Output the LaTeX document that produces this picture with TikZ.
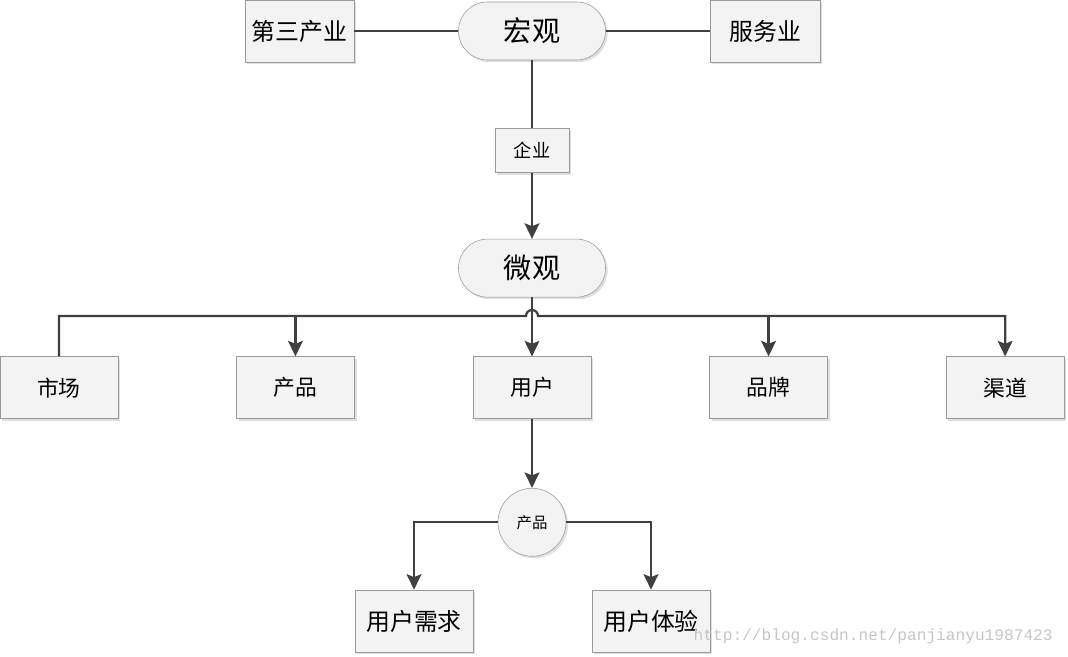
\documentclass[tikz,border=0pt]{standalone}
\usepackage{fontspec}
\newfontfamily\cjk{Noto Sans CJK SC}
\newfontfamily\markfont{Liberation Mono}
\usepackage{tikz}
\usetikzlibrary{arrows.meta, positioning, calc, shadows}
\definecolor{LineGray}{HTML}{404040}
\definecolor{BoxEdge}{HTML}{9A9A9A}
\definecolor{BoxFill}{HTML}{F3F3F3}
\tikzset{
  % Box styles
  pillbox/.style={rectangle, rounded corners=0.72cm, draw=BoxEdge, fill=BoxFill, minimum width=3.675cm, minimum height=1.45cm, font=\cjk\fontsize{20}{22}\selectfont, align=center, drop shadow={shadow xshift=1.5pt, shadow yshift=-1.5pt, opacity=0.25}},
  topicbox/.style={rectangle, draw=BoxEdge, fill=BoxFill, minimum width=2.95cm, minimum height=1.55cm, font=\cjk\fontsize{15.5}{17}\selectfont, align=center, drop shadow={shadow xshift=1.5pt, shadow yshift=-1.5pt, opacity=0.25}},
  smallbox/.style={rectangle, draw=BoxEdge, fill=BoxFill, minimum width=1.85cm, minimum height=1.1cm, font=\cjk\fontsize{13}{15}\selectfont, align=center, drop shadow={shadow xshift=1.5pt, shadow yshift=-1.5pt, opacity=0.25}},
  circnode/.style={circle, draw=BoxEdge, fill=BoxFill, minimum size=1.7cm, font=\cjk\fontsize{11}{13}\selectfont, drop shadow={shadow xshift=1.5pt, shadow yshift=-1.5pt, opacity=0.25}},
  % Arrow styles
  arrow/.style={->, >={Stealth[length=11pt, width=10.5pt, inset=2pt]}, line width=1.6pt, LineGray},
  line/.style={line width=1.6pt, LineGray}
}

\begin{document}
\begin{tikzpicture}
  \useasboundingbox (0,0) rectangle (26.7,-16.425);

  % Top level
  \node[pillbox] (macro) at (13.3,-0.775) {宏观};
  \node[topicbox, minimum width=2.725cm, font=\cjk\fontsize{17}{19}\selectfont, left=2.6cm of macro] (tert) {第三产业};
  \node[topicbox, minimum width=2.75cm, font=\cjk\fontsize{17}{19}\selectfont, right=2.6cm of macro] (serv) {服务业};
  \node[smallbox, below=1.7cm of macro] (corp) {企业};
  \node[pillbox, below=1.65cm of corp] (micro) {微观};

  % Second level
  \node[topicbox, below=1.475cm of micro] (user) {用户};
  \node[topicbox, left=2.95cm of user] (prod) {产品};
  \node[topicbox, left=2.95cm of prod] (mkt) {市场};
  \node[topicbox, right=2.95cm of user] (brand) {品牌};
  \node[topicbox, right=2.95cm of brand] (chan) {渠道};

  % Third level
  \node[circnode, below=1.725cm of user] (uprod) {产品};
  \node[topicbox, font=\cjk\fontsize{17}{19}\selectfont] (need) at (10.35,-15.525) {用户需求};
  \node[topicbox, font=\cjk\fontsize{17}{19}\selectfont] (exper) at (16.275,-15.525) {用户体验};

  % Connectors
  \draw[line] (tert) -- (macro);
  \draw[line] (macro) -- (serv);
  \draw[line] (macro) -- (corp);
  \draw[arrow] (corp) -- (micro);
  \draw[arrow] (micro) -- (user);

  \coordinate (hop) at (user.north |- 0,-7.9);
  \draw[arrow] (mkt.north) |- ([xshift=-0.15cm]hop) arc[start angle=180, end angle=0, radius=0.15cm] -| (chan.north);
  \draw[arrow] (prod.north |- hop) -- (prod.north);
  \draw[arrow] (brand.north |- hop) -- (brand.north);

  \draw[arrow] (user) -- (uprod);
  \draw[arrow] (uprod.west) -| (need.north);
  \draw[arrow] (uprod.east) -| (exper.north);

  % Watermark
  \node[text=gray!45, font=\markfont\fontsize{11.5}{13}\selectfont, anchor=center] (mark) at (21.83,-15.9) {http://blog.csdn.net/panjianyu1987423};
\end{tikzpicture}
\end{document}
